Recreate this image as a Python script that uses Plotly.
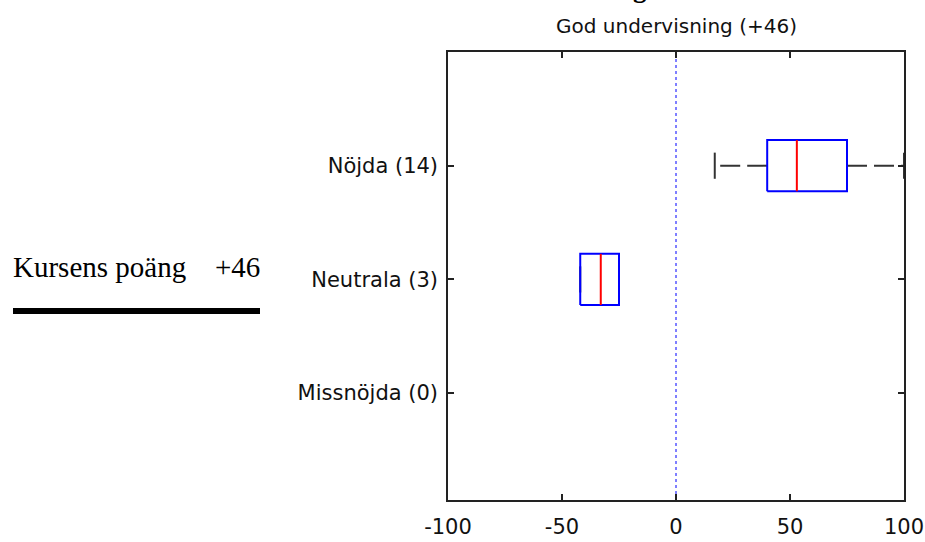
import plotly.graph_objects as go

# ---- data ----
categories = ["Missnöjda (0)", "Neutrala (3)", "Nöjda (14)"]
q1 = [None, -42, 40]
median = [None, -33, 53]
q3 = [None, -25, 75]
whisk_lo = [None, -42, 17]
whisk_hi = [None, -25, 100]
x_ticks = [-100, -50, 0, 50, 100]
x_tick_labels = ["-100", "-50", "0", "50", "100"]
subtitle = "God undervisning (+46)"
score_label = "Kursens poäng"
score_value = "+46"

# ---- geometry / style ----
W, H = 925, 542
L, R, T, B = 448, 21, 52, 42
PW, PH = W - L - R, H - T - B
BOX_H = 0.225
CAP_H = 0.115


def px_x(X):
    return (X - L) / PW


def px_y(Y):
    return (H - B - Y) / PH


ypos = list(range(1, len(categories) + 1))

wx, wy, cx, cy, bx, by, mx, my = [], [], [], [], [], [], [], []
for i, y in enumerate(ypos):
    if median[i] is None:
        continue
    wx += [q1[i], whisk_lo[i], None, q3[i], whisk_hi[i], None]
    wy += [y, y, None, y, y, None]
    cx += [whisk_lo[i], whisk_lo[i], None, whisk_hi[i], whisk_hi[i], None]
    cy += [y - CAP_H, y + CAP_H, None, y - CAP_H, y + CAP_H, None]
    bx += [q1[i], q3[i], q3[i], q1[i], q1[i], None]
    by += [y - BOX_H, y - BOX_H, y + BOX_H, y + BOX_H, y - BOX_H, None]
    mx += [median[i], median[i], None]
    my += [y - BOX_H, y + BOX_H, None]

fig = go.Figure()
fig.add_trace(go.Scatter(x=wx, y=wy, mode="lines", cliponaxis=False,
                         line=dict(color="#333333", width=2, dash="20px,7px"),
                         hoverinfo="skip", showlegend=False))
fig.add_trace(go.Scatter(x=cx, y=cy, mode="lines", cliponaxis=False,
                         line=dict(color="#333333", width=2),
                         hoverinfo="skip", showlegend=False))
fig.add_trace(go.Scatter(x=bx, y=by, mode="lines",
                         line=dict(color="#0000ff", width=2),
                         hoverinfo="skip", showlegend=False))
fig.add_trace(go.Scatter(x=mx, y=my, mode="lines",
                         line=dict(color="#ff0000", width=2),
                         hoverinfo="skip", showlegend=False))

fig.add_shape(type="line", xref="x", yref="paper", x0=0, x1=0, y0=0, y1=1,
              line=dict(color="#0000ff", width=1, dash="dot"), layer="below")

fig.add_shape(type="line", xref="paper", yref="paper",
              x0=px_x(13), x1=px_x(260), y0=px_y(311), y1=px_y(311),
              line=dict(color="black", width=6))

serif = "Liberation Serif, Times New Roman, serif"
sans = "DejaVu Sans, sans-serif"

fig.add_annotation(text=score_label, xref="paper", yref="paper",
                   x=px_x(11), y=px_y(267), xanchor="left", yanchor="middle",
                   showarrow=False, font=dict(family=serif, size=29, color="black"))
fig.add_annotation(text=score_value, xref="paper", yref="paper",
                   x=px_x(262), y=px_y(267), xanchor="right", yanchor="middle",
                   showarrow=False, font=dict(family=serif, size=29, color="black"))
fig.add_annotation(text=subtitle, xref="paper", yref="paper",
                   x=0.5, y=px_y(26), xanchor="center", yanchor="middle",
                   showarrow=False, font=dict(family=sans, size=20, color="#111111"))
# top title, cut off by the page edge as in the reference
fig.add_annotation(text="<b>Kursvärdering</b>", xref="paper", yref="paper",
                   x=px_x(649), y=px_y(5), xanchor="right", yanchor="bottom",
                   showarrow=False, font=dict(family=serif, size=27, color="black"))

axis_common = dict(showline=True, linecolor="#222222", linewidth=1.5, mirror="ticks",
                   ticks="inside", ticklen=6, tickwidth=1.5, tickcolor="#222222",
                   showgrid=False, zeroline=False, automargin=False,
                   tickfont=dict(family=sans, size=21, color="#111111"))

fig.update_layout(
    width=W, height=H,
    margin=dict(l=L, r=R, t=T, b=B, pad=0, autoexpand=False),
    paper_bgcolor="white", plot_bgcolor="white",
    xaxis=dict(range=[-100, 100], tickvals=x_ticks, ticktext=x_tick_labels,
               ticklabelstandoff=7, **axis_common),
    yaxis=dict(range=[0.06, 4.0], tickvals=ypos, ticktext=categories,
               ticklabelstandoff=4, **axis_common),
)

fig.write_html("out.html", config={"displayModeBar": False},
               post_script="document.body.style.margin='0';document.body.style.overflow='hidden';")
